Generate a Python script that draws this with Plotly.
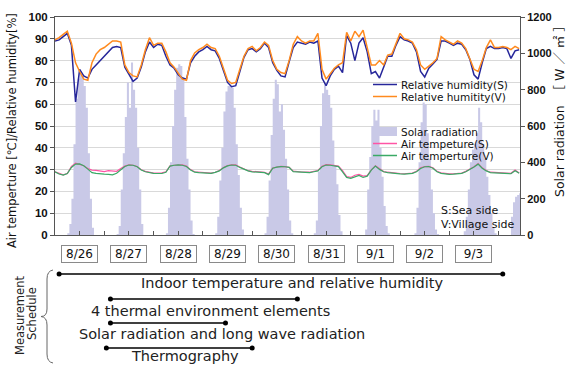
import plotly.graph_objects as go

# ---------------- data (hours counted from 8/26 00:00, 2-hour samples) ----------------
sample_step_h = 2

rh_sea = [89, 89.5, 91, 92.5, 87, 61, 76, 73, 72, 76, 78, 80,
          82, 84, 86, 86.5, 86, 77, 74, 70.5, 72, 77, 84, 88.5,
          86, 87.5, 87, 82, 78, 76.5, 73.5, 72, 71.5, 79, 82, 84, 85,
          86.5, 85, 84.5, 81, 75, 70, 68, 68.5, 75, 81.5, 85, 85.5,
          84, 85.5, 88, 86, 79, 75.5, 73, 72.5, 79.5, 86, 88.5, 88,
          87.5, 88.5, 88, 89, 72, 68.5, 73, 76, 77.5, 74.5, 91.5, 88,
          80, 88, 90.5, 84, 74, 75, 72, 77, 82, 82, 87, 91,
          89.5, 89, 88, 84, 75, 72.5, 76.5, 78.5, 80.5, 89, 89, 88,
          87, 88, 87.5, 85, 80.5, 73.5, 71.5, 79, 85.5, 86.5, 85.5, 85.5, 86,
          85.5, 81, 84.5, 85]

rh_village = [89.5, 90.5, 92, 93.5, 88, 79, 75, 71.5, 71, 79, 83, 85,
              86, 87.5, 89, 89, 88.5, 78, 74.5, 73, 72.5, 78, 85, 90.5,
              87, 88, 88, 84, 79, 77, 74, 71.5, 71, 80, 83.5, 85, 86,
              87.5, 86, 85.5, 82, 76, 71, 69.5, 70, 76, 82, 85.5, 86.5,
              84.5, 86, 88.5, 87, 80, 76, 74.5, 74, 80, 87.5, 91, 89,
              88, 89, 89, 92.5, 76, 71.5, 74, 76.5, 78, 79, 93, 89,
              93.5, 91, 94, 86, 78, 78, 80, 78, 82.5, 83, 88, 92.5,
              90, 89.5, 88.5, 85, 78, 76, 77.5, 79, 81, 91, 89.5, 88.5,
              87.5, 89, 88, 85.5, 81, 76, 75, 80, 86, 89.5, 86, 86, 86.5,
              86, 85, 86.5, 85.5]

temp_sea = [29, 28.3, 27.6, 28.2, 31.5, 33, 32.5, 31.8, 30.5, 29.8, 29.6, 29.3,
            29.1, 29.5, 29.3, 29.2, 30.5, 31.6, 32.2, 32, 31.4, 29.9, 29.2, 28.7,
            28.4, 28.4, 28.5, 29, 31.7, 32, 32.2, 32.2, 31.6, 30, 29, 28.8, 28.7,
            28.6, 28.4, 28.8, 29.6, 31, 31.8, 32.2, 32.2, 31.2, 30.4, 29.5, 29.2,
            29, 28.9, 28.8, 28, 30.7, 31.2, 31.5, 31.4, 31.1, 29.3, 29, 28.9,
            28.8, 28.8, 29.2, 29.6, 31.5, 32.3, 32.2, 31.8, 31.6, 29.5, 26.8, 26.4,
            27.4, 27.8, 27, 27.2, 29.9, 31.8, 30.3, 29.1, 28.8, 28.5, 28.3, 28.2,
            28.1, 28.2, 28.4, 29.2, 30.8, 31.4, 31.5, 30.8, 29.2, 28.5, 28.1, 28,
            28.1, 28.2, 28.4, 29.2, 30.2, 31.3, 32.8, 30.8, 29.6, 28.8, 28.7, 28.65, 28.6,
            28.5, 28.3, 29.8, 28.5]

temp_village = [29, 28, 27.5, 28.2, 31, 32.5, 32.6, 31.8, 30.2, 28.6, 28.3, 28,
                27.9, 27.8, 27.6, 28.3, 30, 31.4, 32.1, 32, 31.3, 29.8, 29, 28.5,
                28.3, 28.2, 28.2, 28.8, 31.6, 32, 32.2, 32, 31.4, 29.8, 28.8, 28.6, 28.5,
                28.5, 28.3, 28.7, 29.4, 30.8, 31.7, 32.1, 32, 31, 30.2, 29.4, 29,
                28.9, 28.7, 28.6, 27.7, 30.6, 31.1, 31.4, 31.3, 31, 29.1, 28.9, 28.8,
                28.7, 28.6, 29, 29.4, 31.3, 32.1, 32, 31.7, 31.4, 29, 26.4, 26,
                26.8, 27.3, 26.4, 27, 29.8, 31.6, 30.1, 29, 28.6, 28.3, 28.1, 28,
                27.9, 28, 28.3, 29, 30.5, 31.3, 31.4, 30.6, 29, 28.3, 27.9, 27.8,
                27.9, 28, 28.3, 29, 30, 31.2, 32.5, 30.6, 29.4, 28.6, 28.5, 28.45, 28.4,
                28.3, 28.1, 29.5, 28.3]

# hourly solar radiation [W/m2], each list starts at 06:00 of its day
solar_first_hour = 6
solar_8_26 = [10, 60, 200, 500, 750, 860, 900, 880, 820, 700, 450, 200, 40, 0]
solar_8_27 = [5, 50, 250, 450, 650, 840, 700, 950, 800, 700, 480, 250, 60, 0]
solar_8_28 = [10, 150, 400, 600, 800, 920, 940, 930, 870, 650, 420, 250, 80, 5]
solar_8_29 = [10, 100, 300, 480, 680, 790, 820, 820, 810, 700, 500, 330, 150, 30]
solar_8_30 = [10, 100, 300, 550, 750, 855, 830, 680, 720, 580, 420, 250, 80, 10]
solar_8_31 = [10, 80, 350, 600, 780, 830, 800, 770, 700, 520, 380, 280, 110, 20]
solar_9_1 = [0, 30, 250, 430, 600, 690, 630, 690, 480, 320, 160, 50, 10, 0]
solar_9_2 = [0, 10, 150, 400, 620, 730, 720, 560, 420, 250, 120, 30, 5, 0]
solar_9_3 = [0, 20, 100, 250, 400, 470, 500, 560, 700, 620, 500, 420, 320, 220, 120, 40, 10]
solar_9_4 = [100, 180, 210, 220, 230]
solar_days = [solar_8_26, solar_8_27, solar_8_28, solar_8_29, solar_8_30,
              solar_8_31, solar_9_1, solar_9_2, solar_9_3, solar_9_4]

day_labels = ["8/26", "8/27", "8/28", "8/29", "8/30", "8/31", "9/1", "9/2", "9/3"]

schedule_names = ["Indoor temperature and relative humidity",
                  "4 thermal environment elements",
                  "Solar radiation and long wave radiation",
                  "Thermography"]
schedule_start_h = [2, 27, 27, 25]
schedule_end_h = [218, 118, 83, 96]

# ---------------- derived series ----------------
hours = [i * sample_step_h for i in range(len(rh_sea))]
# hourly values drawn as a step area (value held for the whole hour)
solar_x, solar_y = [0], [0]
for d, vals in enumerate(solar_days):
    for k, v in enumerate(vals):
        solar_x.append(24 * d + solar_first_hour + k)
        solar_y.append(v)
    solar_x.append(24 * d + solar_first_hour + len(vals))
    solar_y.append(0)

# ---------------- layout geometry ----------------
W, H = 569, 365
ML, MR, MT, MB = 55, 49, 17, 130
PW, PH = W - ML - MR, H - MT - MB
X_END = 226.4


def px(x):
    return (x - ML) / PW


def py(y):
    return (MT + PH - y) / PH


TXT = "DejaVu Sans, Noto Sans CJK JP, sans-serif"
NUM = "Liberation Sans, Arial, sans-serif"

C_NAVY = "#26269a"
C_ORANGE = "#ff8a1e"
C_PINK = "#ff55a5"
C_GREEN = "#3aaa66"
C_SOLAR = "#c9c9e7"

fig = go.Figure()
fig.add_trace(go.Scatter(x=solar_x, y=solar_y, yaxis="y", mode="lines",
                         line=dict(width=0, shape="hv", color=C_SOLAR),
                         fill="tozeroy", fillcolor=C_SOLAR,
                         name="Solar radiation", showlegend=False))
fig.add_trace(go.Scatter(x=hours, y=temp_sea, yaxis="y2", mode="lines",
                         line=dict(color=C_PINK, width=1.2), name="Air tempeture(S)", showlegend=False))
fig.add_trace(go.Scatter(x=hours, y=temp_village, yaxis="y2", mode="lines",
                         line=dict(color=C_GREEN, width=1.2), name="Air temperture(V)", showlegend=False))
fig.add_trace(go.Scatter(x=hours, y=rh_sea, yaxis="y2", mode="lines",
                         line=dict(color=C_NAVY, width=1.5), name="Relative humidity(S)", showlegend=False))
fig.add_trace(go.Scatter(x=hours, y=rh_village, yaxis="y2", mode="lines",
                         line=dict(color=C_ORANGE, width=1.5), name="Relative humitity(V)", showlegend=False))

shapes = []
annotations = []


def label(x, y, text, size, xanchor="center", angle=0, color="#111", family=TXT, xref="paper", **kw):
    d = dict(x=x, y=y, xref=xref, yref="paper", text=text, showarrow=False,
             xanchor=xanchor, yanchor="middle", textangle=angle,
             font=dict(family=family, size=size, color=color))
    d.update(kw)
    annotations.append(d)


# legend (drawn manually to keep the tight spacing of the original)
leg_x0, leg_x1, leg_tx = 373, 397, 399
for y, col in [(84.5, C_NAVY), (96.5, C_ORANGE), (143.5, C_PINK), (155.5, C_GREEN)]:
    shapes.append(dict(type="line", xref="paper", yref="paper", x0=px(leg_x0), x1=px(leg_x1),
                       y0=py(y), y1=py(y), line=dict(color=col, width=1.5)))
shapes.append(dict(type="rect", xref="paper", yref="paper", x0=px(leg_x0), x1=px(leg_x1),
                   y0=py(136), y1=py(127), fillcolor=C_SOLAR, line=dict(width=0)))
for y, t in [(84.5, "Relative humidity(S)"), (96.5, "Relative humitity(V)"),
             (131.5, "Solar radiation"), (143.5, "Air tempeture(S)"), (155.5, "Air temperture(V)")]:
    label(px(leg_tx), py(y), t, 10.5, xanchor="left")
for y, t in [(210, "S:Sea side"), (224.5, "V:Village side")]:
    label(px(439), py(y), t, 11, xanchor="left")

# axis titles
label(px(12), py(131), "Air temperture [℃]/Relative humidity[%]", 11.5, angle=-90)
label(px(559), py(108), "Solar radiation  ［ W ／ ㎡ ］", 12.5, angle=-90)

# date boxes
for d, lab in enumerate(day_labels):
    label(24 * d + 12, py(254), lab, 12, xref="x", bgcolor="white", bordercolor="#8a8a8a",
          borderwidth=1, borderpad=1, width=33, height=14)

# measurement schedule
sched_line_y = [274, 299, 323, 348]
sched_text_xy = [(291.5, 283), (210, 310.5), (221.5, 334), (185, 355.5)]
for i, name in enumerate(schedule_names):
    yy = py(sched_line_y[i])
    shapes.append(dict(type="line", xref="x", yref="paper", x0=schedule_start_h[i], x1=schedule_end_h[i],
                       y0=yy, y1=yy, line=dict(color="black", width=1.5)))
    for xe in (schedule_start_h[i], schedule_end_h[i]):
        shapes.append(dict(type="circle", xref="x", yref="paper", xsizemode="pixel", ysizemode="pixel",
                           xanchor=xe, yanchor=yy, x0=-2.5, x1=2.5, y0=-2.5, y1=2.5,
                           fillcolor="black", line=dict(width=0)))
    tx, ty = sched_text_xy[i]
    label(px(tx), py(ty), name, 14.5, color="#222")

label(px(20), py(316), "Measurement", 11.5, angle=-90, color="#222")
label(px(32), py(314), "Schedule", 11.5, angle=-90, color="#222")

# curly brace
bx, tip = 47, 41
pts = [(53, 270), (bx, 271), (bx, 279), (bx, 309), (bx, 316.5), (tip, 316.5), (bx, 317), (bx, 325),
       (bx, 354), (bx, 362), (53, 363)]
P = [(px(a), py(b)) for a, b in pts]
path = (f"M {P[0][0]},{P[0][1]} Q {P[1][0]},{P[1][1]} {P[2][0]},{P[2][1]} "
        f"L {P[3][0]},{P[3][1]} Q {P[4][0]},{P[4][1]} {P[5][0]},{P[5][1]} "
        f"Q {P[6][0]},{P[6][1]} {P[7][0]},{P[7][1]} L {P[8][0]},{P[8][1]} "
        f"Q {P[9][0]},{P[9][1]} {P[10][0]},{P[10][1]}")
shapes.append(dict(type="path", xref="paper", yref="paper", path=path,
                   line=dict(color="#666", width=1)))

fig.update_layout(
    width=W, height=H,
    margin=dict(l=ML, r=MR, t=MT, b=MB, pad=0),
    paper_bgcolor="white", plot_bgcolor="white",
    showlegend=False,
    xaxis=dict(range=[0, X_END], showline=True, linecolor="#555", linewidth=1, mirror=True,
               ticks="inside", tick0=0, dtick=12, ticklen=4, tickcolor="#555",
               showticklabels=False, showgrid=False, zeroline=False),
    yaxis=dict(range=[0, 1200], side="right", dtick=200, ticks="outside", ticklen=4, tickcolor="#555",
               showgrid=False, showline=True, linecolor="#555", zeroline=False,
               tickfont=dict(family=NUM, size=11, color="#111", weight="bold")),
    yaxis2=dict(range=[0, 100], overlaying="y", anchor="x", side="left", dtick=10,
                ticks="outside", ticklen=4, tickcolor="#555",
                showgrid=True, gridcolor="#d9d9d9", gridwidth=1, showline=True, linecolor="#555",
                zeroline=False, tickfont=dict(family=NUM, size=11.5, color="#111", weight="bold")),
    shapes=shapes, annotations=annotations,
)

fig.write_html("out.html", config={"displayModeBar": False})
